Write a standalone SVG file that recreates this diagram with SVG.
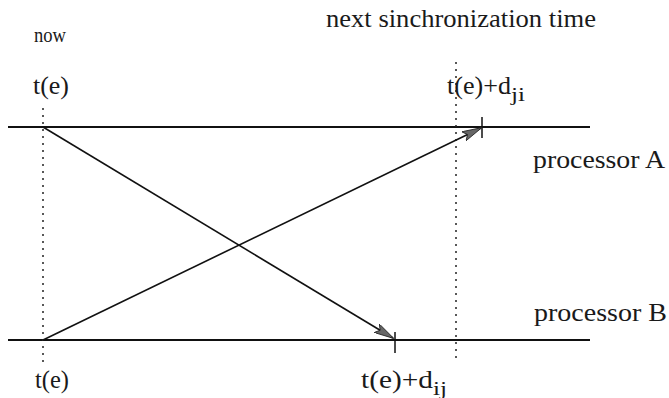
<svg xmlns="http://www.w3.org/2000/svg" width="669" height="398" viewBox="0 0 669 398">
<style>
text { font-family: "Liberation Serif", "Times New Roman", serif; fill: #1a1a1a; font-size: 26px; }
.now { font-size: 22px; }
.sub { font-size: 18px; }
.axis { stroke: #111; stroke-width: 2; fill: none; }
.dot { stroke: #222; stroke-width: 1.5; stroke-dasharray: 2 5; fill: none; }
.tick { stroke: #111; stroke-width: 1.5; }
.msg { stroke: #111; stroke-width: 1.6; fill: none; marker-end: url(#ah); }
</style>
<defs>
<marker id="ah" viewBox="0 0 20 10" refX="19" refY="5" markerWidth="20" markerHeight="10" markerUnits="userSpaceOnUse" orient="auto">
<path d="M0,0 L20,5 L0,10 L4,5 Z" fill="#666" stroke="#222" stroke-width="0.8"/>
</marker>
</defs>
<g id="timeline-A">
<line class="axis" x1="8" y1="127" x2="590" y2="127"/>
<line class="tick" x1="482" y1="117" x2="482" y2="138"/>
<text x="533" y="168" textLength="132" lengthAdjust="spacingAndGlyphs">processor A</text>
</g>
<g id="timeline-B">
<line class="axis" x1="8" y1="340" x2="590" y2="340"/>
<line class="tick" x1="395" y1="332" x2="395" y2="353"/>
<text x="534" y="321" textLength="133" lengthAdjust="spacingAndGlyphs">processor B</text>
</g>
<g id="now-marker">
<line class="dot" x1="43" y1="108" x2="43" y2="362"/>
<text class="now" x="34" y="42" textLength="32" lengthAdjust="spacingAndGlyphs">now</text>
<text x="33" y="94" textLength="36" lengthAdjust="spacingAndGlyphs">t(e)</text>
<text x="35" y="388" textLength="34" lengthAdjust="spacingAndGlyphs">t(e)</text>
</g>
<g id="sync-marker">
<line class="dot" x1="456" y1="62" x2="456" y2="362"/>
<text x="326" y="27" textLength="270" lengthAdjust="spacingAndGlyphs">next sinchronization time</text>
</g>
<g id="labels">
<text x="447" y="94"><tspan textLength="64" lengthAdjust="spacingAndGlyphs">t(e)+d</tspan><tspan class="sub" dy="7" textLength="14" lengthAdjust="spacingAndGlyphs">ji</tspan></text>
<text x="361" y="388"><tspan textLength="72" lengthAdjust="spacingAndGlyphs">t(e)+d</tspan><tspan class="sub" dy="7" textLength="14" lengthAdjust="spacingAndGlyphs">ij</tspan></text>
</g>
<g id="connectors">
<line class="msg" x1="43" y1="127" x2="393" y2="338"/>
<line class="msg" x1="43" y1="340" x2="481" y2="128"/>
</g>
</svg>
